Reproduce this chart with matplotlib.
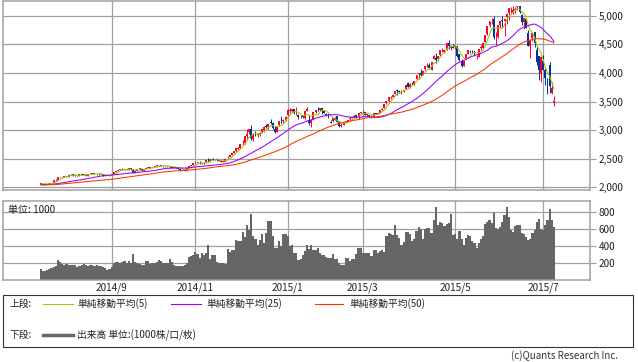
import numpy as np
import matplotlib
matplotlib.use("Agg")
import matplotlib.pyplot as plt
from matplotlib.patches import Rectangle
from matplotlib.lines import Line2D

plt.rcParams['font.family'] = ['Noto Sans CJK JP', 'DejaVu Sans']

# ---------------- data ----------------
# closes of the 49 sessions before the displayed window (for moving averages)
prior_closes = [2027, 2028, 2010, 2015, 2011, 2052, 2050, 2047, 2025, 2026, 2005, 2010, 2024, 2021, 2034, 2041, 2042, 2040,
                2025, 2024, 2029, 2030, 2057, 2051, 2053, 2070, 2055, 2066, 2067, 2055, 2024, 2026, 2025, 2033, 2037, 2036, 2033, 2048,
                2050, 2060, 2063, 2060, 2059, 2067, 2039, 2047, 2048, 2066, 2067]

opens = [
    # 2014/7
    2068, 2058, 2050, 2057, 2058, 2076, 2079, 2126, 2133, 2180, 2182, 2182,
    # 2014/8
    2199, 2186, 2225, 2222, 2220, 2192, 2200, 2226, 2220, 2223, 2204, 2228, 2240, 2243, 2239, 2226, 2240, 2229, 2198, 2197, 2196,
    # 2014/9
    2218, 2236, 2267, 2287, 2307, 2328, 2316, 2307, 2311, 2333, 2316, 2251, 2292, 2316, 2328, 2283, 2314, 2343, 2340, 2348, 2358,
    # 2014/10
    2366, 2384, 2382, 2370, 2366, 2366, 2367, 2353, 2343, 2355, 2341, 2325, 2303, 2301, 2289, 2338, 2374, 2394,
    # 2014/11
    2423, 2429, 2430, 2416, 2420, 2435, 2475, 2466, 2495, 2483, 2498, 2474, 2451, 2446, 2450, 2529, 2531, 2568, 2605, 2630,
    # 2014/12
    2665, 2679, 2766, 2780, 2905, 2960, 3020, 2846, 2929, 2913, 2937, 2964, 3004, 3068, 3054, 3130, 3121, 3018, 2968, 3083, 3178, 3166, 3173,
    # 2015/1
    3258, 3331, 3327, 3371, 3276, 3259, 3223, 3240, 3213, 3342, 3164, 3118, 3187, 3314, 3355, 3353, 3383, 3334, 3280, 3273,
    # 2015/2
    3150, 3156, 3218, 3243, 3139, 3066, 3093, 3146, 3155, 3187, 3208, 3229, 3259, 3224, 3303,
    # 2015/3
    3332, 3317, 3264, 3264, 3248, 3225, 3291, 3287, 3291, 3354, 3379, 3467, 3503, 3574, 3579, 3633, 3692, 3688, 3641, 3687, 3710, 3822,
    # 2015/4
    3752, 3828, 3803, 3899, 3980, 4004, 3967, 4062, 4130, 4137, 4056, 4238, 4264, 4251, 4311, 4411, 4368, 4409, 4527, 4434, 4471,
    # 2015/5
    4446, 4467, 4330, 4214, 4127, 4262, 4332, 4386, 4391, 4377, 4273, 4285, 4428, 4430, 4545, 4682, 4844, 4935, 4943, 4603,
    # 2015/6
    4633, 4844, 4924, 4912, 4972, 5045, 5109, 5049, 5091, 5144, 5175, 5004, 4890, 4942, 4690, 4471, 4604, 4711, 4399, 4289, 4006,
    # 2015/7
    4214, 4058, 3793, 4132, 3654, 3467,
]

highs = [
    2074, 2063, 2062, 2064, 2077, 2083, 2130, 2138, 2180, 2186, 2189, 2202,
    2205, 2224, 2233, 2226, 2224, 2200, 2226, 2232, 2230, 2225, 2227, 2243, 2248, 2245, 2241, 2242, 2243, 2234, 2207, 2204, 2218,
    2236, 2267, 2290, 2308, 2326, 2339, 2318, 2318, 2333, 2337, 2321, 2295, 2318, 2334, 2330, 2316, 2345, 2352, 2350, 2361, 2366,
    2388, 2391, 2387, 2378, 2371, 2377, 2373, 2358, 2357, 2362, 2348, 2326, 2313, 2302, 2337, 2374, 2392, 2420,
    2437, 2434, 2452, 2424, 2437, 2481, 2505, 2496, 2506, 2492, 2508, 2479, 2459, 2458, 2490, 2541, 2568, 2604, 2632, 2687,
    2713, 2764, 2824, 2899, 3022, 3020, 3091, 2941, 2978, 2946, 2960, 3022, 3067, 3114, 3118, 3189, 3141, 3072, 3074, 3157, 3239, 3192, 3239,
    3369, 3394, 3374, 3373, 3404, 3283, 3260, 3268, 3336, 3400, 3262, 3190, 3323, 3345, 3406, 3384, 3390, 3348, 3300, 3288,
    3174, 3208, 3224, 3243, 3165, 3120, 3142, 3167, 3182, 3233, 3234, 3256, 3259, 3299, 3324,
    3343, 3318, 3286, 3266, 3265, 3306, 3295, 3301, 3354, 3385, 3450, 3503, 3578, 3600, 3632, 3688, 3716, 3693, 3700, 3709, 3795, 3835,
    3817, 3835, 3866, 3961, 4000, 4069, 4036, 4128, 4168, 4177, 4195, 4317, 4356, 4294, 4400, 4444, 4409, 4529, 4572, 4481, 4504,
    4488, 4467, 4336, 4250, 4206, 4334, 4402, 4402, 4398, 4388, 4310, 4418, 4484, 4530, 4658, 4814, 4911, 4959, 5001, 4710,
    4829, 4911, 4999, 4948, 5051, 5132, 5147, 5164, 5152, 5178, 5176, 5029, 4968, 4967, 4744, 4577, 4691, 4720, 4457, 4297, 4287,
    4318, 4080, 3908, 4184, 3837, 3601,
]

lows = [
    2055, 2049, 2045, 2052, 2055, 2070, 2078, 2117, 2132, 2169, 2171, 2179,
    2182, 2181, 2216, 2204, 2192, 2186, 2199, 2215, 2214, 2203, 2200, 2225, 2233, 2232, 2221, 2222, 2226, 2196, 2191, 2190, 2194,
    2211, 2234, 2263, 2282, 2296, 2311, 2294, 2302, 2308, 2311, 2247, 2250, 2290, 2310, 2286, 2282, 2313, 2335, 2333, 2344, 2354,
    2360, 2378, 2365, 2356, 2352, 2358, 2343, 2331, 2339, 2335, 2323, 2287, 2295, 2277, 2288, 2337, 2368, 2391,
    2414, 2418, 2414, 2404, 2412, 2432, 2441, 2450, 2476, 2473, 2468, 2454, 2441, 2440, 2445, 2514, 2525, 2564, 2598, 2615,
    2644, 2678, 2738, 2760, 2848, 2930, 2834, 2811, 2904, 2877, 2904, 2958, 2975, 3032, 3023, 3111, 3015, 2951, 2964, 3070, 3129, 3120, 3158,
    3254, 3303, 3312, 3285, 3268, 3192, 3210, 3208, 3196, 3340, 3095, 3050, 3185, 3296, 3330, 3334, 3283, 3295, 3241, 3209,
    3122, 3141, 3172, 3134, 3049, 3049, 3086, 3138, 3147, 3175, 3205, 3220, 3218, 3197, 3287,
    3297, 3260, 3250, 3234, 3216, 3220, 3276, 3277, 3291, 3354, 3379, 3455, 3500, 3546, 3570, 3633, 3608, 3645, 3623, 3660, 3710, 3747,
    3742, 3791, 3787, 3898, 3898, 3940, 3967, 4045, 4108, 4070, 4043, 4236, 4175, 4207, 4299, 4368, 4340, 4402, 4414, 4404, 4441,
    4414, 4285, 4208, 4099, 4120, 4262, 4329, 4352, 4352, 4293, 4246, 4276, 4393, 4428, 4543, 4670, 4797, 4853, 4595, 4493,
    4616, 4792, 4811, 4648, 4857, 4923, 5036, 5028, 5052, 5103, 5048, 4842, 4759, 4780, 4476, 4264, 4552, 4456, 4139, 3875, 3848,
    4043, 3795, 3629, 3653, 3629, 3421,
]

closes = [
    2060, 2055, 2060, 2059, 2075, 2078, 2127, 2127, 2178, 2183, 2182, 2201,
    2185, 2223, 2224, 2219, 2194, 2194, 2225, 2221, 2223, 2206, 2226, 2240, 2245, 2240, 2228, 2241, 2230, 2197, 2197, 2195, 2217,
    2235, 2266, 2288, 2306, 2326, 2318, 2307, 2311, 2332, 2315, 2256, 2292, 2316, 2329, 2290, 2315, 2343, 2345, 2347, 2357, 2364,
    2382, 2389, 2374, 2366, 2367, 2373, 2357, 2341, 2356, 2339, 2326, 2302, 2302, 2290, 2337, 2373, 2391, 2420,
    2430, 2430, 2420, 2419, 2418, 2474, 2469, 2494, 2485, 2478, 2475, 2456, 2451, 2452, 2487, 2532, 2567, 2604, 2630, 2683,
    2680, 2763, 2779, 2899, 2938, 3020, 2856, 2940, 2925, 2938, 2953, 3022, 3061, 3058, 3108, 3128, 3032, 2973, 3072, 3157, 3169, 3166, 3235,
    3351, 3353, 3374, 3294, 3285, 3230, 3223, 3222, 3336, 3376, 3117, 3173, 3323, 3343, 3351, 3383, 3353, 3305, 3263, 3210,
    3128, 3205, 3175, 3137, 3076, 3095, 3142, 3158, 3173, 3204, 3223, 3247, 3229, 3299, 3310,
    3337, 3264, 3280, 3248, 3241, 3302, 3286, 3291, 3350, 3373, 3449, 3503, 3577, 3583, 3617, 3688, 3691, 3661, 3683, 3692, 3787, 3748,
    3811, 3826, 3864, 3961, 3995, 3958, 4035, 4122, 4135, 4085, 4195, 4288, 4217, 4294, 4399, 4414, 4394, 4527, 4477, 4476, 4442,
    4481, 4299, 4230, 4112, 4206, 4334, 4402, 4376, 4379, 4309, 4284, 4418, 4447, 4530, 4658, 4814, 4911, 4942, 4621, 4612,
    4829, 4910, 4910, 4948, 5024, 5132, 5114, 5106, 5121, 5166, 5062, 4887, 4968, 4786, 4478, 4577, 4691, 4528, 4193, 4054, 4277,
    4054, 3913, 3687, 3776, 3728, 3507,
]

volumes = [
    130, 110, 110, 118, 125, 137, 157, 165, 235, 212, 188, 176,
    188, 180, 180, 172, 172, 157, 165, 172, 184, 172, 165, 176, 172, 168, 172, 165, 168, 157, 137, 118, 125,
    157, 204, 212, 212, 204, 212, 220, 204, 223, 196, 306, 216, 204, 188, 176, 172, 223, 220, 188, 196, 204,
    212, 235, 223, 204, 196, 204, 247, 212, 172, 165, 165, 168, 165, 176, 204, 266, 282, 298,
    325, 302, 255, 314, 294, 314, 412,
    243, 294, 294, 216, 204, 204, 204, 187, 360, 333, 353, 353, 470, 451, 451, 560, 502, 647, 588, 776,
    517, 478, 412, 470, 541, 431, 549, 686, 686, 517, 380, 380, 451, 400, 537, 537, 510, 400, 412, 321,
    321, 235, 243, 294, 341, 412, 360, 412, 353, 353, 372, 314, 294, 294, 267, 255, 255, 306, 247, 247,
    204, 176, 176, 255, 255, 227, 243, 243, 306, 380, 380, 321, 314, 321, 321, 282, 353, 353, 314, 340,
    353, 333, 517, 549, 541, 529, 647, 529, 490, 412, 443, 560, 560, 540, 451, 478, 576, 619, 596, 478,
    600, 608, 608, 549, 706, 855, 647, 678, 666, 635, 650, 666, 776, 529, 537, 482, 576, 478, 404, 490,
    529, 517, 451, 439, 380, 431, 480, 517, 659, 674, 698, 666, 784, 608, 596, 619, 678, 764, 855, 737,
    588, 557, 635, 640, 647, 549, 537, 502, 463, 478, 549, 588, 674, 717, 596, 580, 640, 698, 835, 698, 619,
]

month_index = [33, 72, 115, 150, 193, 234]
month_labels = ['2014/9', '2014/11', '2015/1', '2015/3', '2015/5', '2015/7']
price_ticks = [2000, 2500, 3000, 3500, 4000, 4500, 5000]
volume_ticks = [200, 400, 600, 800]
ma_periods = [5, 25, 50]
ma_colors = ['#99cc00', '#9900ff', '#ff3300']
ma_labels = ['単純移動平均(5)', '単純移動平均(25)', '単純移動平均(50)']

# ---------------- figure ----------------
W, H = 638, 362
fig = plt.figure(figsize=(W / 100, H / 100), dpi=100)
fig.patch.set_facecolor('white')

def fx(px):
    return px / W

def fy(py):
    return (H - py) / H

grid_c = '#a0a0a0'
frame_c = '#a0a0a0'
txt_c = '#222222'
up_c = '#ff0033'
dn_c = '#003399'

ax_p = fig.add_axes([fx(3), fy(190), fx(590) - fx(3), fy(1) - fy(190)])
ax_v = fig.add_axes([fx(3), fy(280), fx(590) - fx(3), fy(201) - fy(280)])

n = len(closes)
x = np.arange(n)
o = np.array(opens, float)
c = np.array(closes, float)
h = np.array(highs, float)
l = np.array(lows, float)
v = np.array(volumes, float)
xl = (-17.6, 255.8)

for ax in (ax_p, ax_v):
    ax.set_xlim(*xl)
    for s in ax.spines.values():
        s.set_color(frame_c)
        s.set_linewidth(1.1)
    ax.yaxis.tick_right()
    ax.tick_params(axis='y', length=4, width=0.8, color=frame_c, labelsize=7.2,
                   labelcolor=txt_c, pad=2)
    ax.set_axisbelow(True)
    for mi in month_index:
        ax.axvline(mi, color=grid_c, lw=0.9, zorder=0)

# price panel
ax_p.set_ylim(1953, 5257)
ax_p.set_yticks(price_ticks)
ax_p.set_yticklabels([f'{t:,}' for t in price_ticks])
ax_p.set_xticks([])
for t in price_ticks:
    ax_p.axhline(t, color=grid_c, lw=0.9, zorder=0)

cols = [up_c if cc >= oo else dn_c for oo, cc in zip(o, c)]
ax_p.vlines(x, l, h, colors=cols, lw=0.7, zorder=2)
body_bot = np.minimum(o, c)
body_h = np.maximum(np.abs(c - o), 6)
ax_p.bar(x, body_h, bottom=body_bot, width=0.9, color=cols, linewidth=0, zorder=3)

full = np.array(prior_closes + closes, float)
off = len(prior_closes)
for p, col in zip(ma_periods, ma_colors):
    ma = np.array([full[off + i - p + 1: off + i + 1].mean() for i in range(n)])
    ax_p.plot(x, ma, color=col, lw=0.75, zorder=4)

# volume panel
ax_v.set_ylim(0, 925)
ax_v.set_yticks(volume_ticks)
ax_v.set_yticklabels([str(t) for t in volume_ticks])
for t in volume_ticks:
    ax_v.axhline(t, color=grid_c, lw=0.9, zorder=0)
ax_v.bar(x, v, width=1.0, color='#666666', linewidth=0, zorder=2)
ax_v.set_xticks(month_index)
ax_v.set_xticklabels(month_labels)
ax_v.tick_params(axis='x', length=0, labelsize=7.2, labelcolor=txt_c, pad=1.5)
ax_v.text(fx(8 - 3) / (fx(590) - fx(3)), 0.88, '単位: 1000', transform=ax_v.transAxes,
          fontsize=7.2, color=txt_c, va='center', ha='left', zorder=5)

# legend box
fig.patches.append(Rectangle((fx(3), fy(347)), fx(633) - fx(3), fy(295) - fy(347),
                             transform=fig.transFigure, fill=False, edgecolor='#333333', lw=0.8))
r1, r2 = fy(304), fy(335)
fig.text(fx(10), r1, '上段:', fontsize=7, color=txt_c, va='center')
line_x = [(43, 73), (171, 201), (315, 343)]
text_x = [77, 206, 349]
for (a, b), tx, col, lab in zip(line_x, text_x, ma_colors, ma_labels):
    fig.lines.append(Line2D([fx(a), fx(b)], [r1, r1], transform=fig.transFigure, color=col, lw=0.8))
    fig.text(fx(tx), r1, lab, fontsize=7, color=txt_c, va='center')
fig.text(fx(10), r2, '下段:', fontsize=7, color=txt_c, va='center')
fig.lines.append(Line2D([fx(43), fx(73)], [r2, r2], transform=fig.transFigure, color='#666666', lw=2.5))
fig.text(fx(77), r2, '出来高 単位:(1000株/口/枚)', fontsize=7, color=txt_c, va='center')

fig.text(fx(618), fy(356), '(c)Quants Research Inc.', fontsize=7, color='#333333',
         va='center', ha='right')

fig.savefig('out.png', dpi=100, facecolor='white')
